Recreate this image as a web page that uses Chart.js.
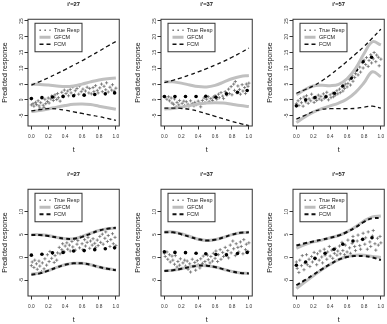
<!DOCTYPE html>
<html>
<head>
<meta charset="utf-8">
<script src="https://cdn.jsdelivr.net/npm/chart.js@4.4.0/dist/chart.umd.min.js"></script>
<style>
body { margin: 0; background: #fff; overflow: hidden; }
#wrap { position: relative; width: 387px; height: 324px; overflow: hidden; }
canvas { position: absolute; }
</style>
</head>
<body>
<div id="wrap"></div>
<script>
var tGrid = [0, 0.1, 0.2, 0.3, 0.4, 0.5, 0.6, 0.7, 0.8, 0.9, 1.0];
var legendLabels = ['True Resp', 'GFCM', 'FCM'];

// top row bands
var gfcmUpA27 = [4.9, 4.9, 4.7, 4.4, 4.2, 4.4, 5.0, 5.7, 6.3, 6.7, 6.9];
var gfcmLoA27 = [-3.7, -3.4, -2.9, -2.3, -1.8, -1.4, -1.3, -1.5, -2.0, -2.5, -3.0];
var fcmUpA27 = [4.7, 5.8, 7.0, 8.3, 9.6, 11.0, 12.4, 13.9, 15.4, 17.0, 18.5];
var fcmLoA27 = [-3.5, -3.1, -2.8, -2.9, -3.3, -3.8, -4.3, -4.8, -5.3, -5.9, -6.5];
var gfcmUpA37 = [5.8, 5.7, 5.3, 4.7, 4.2, 4.1, 4.6, 5.6, 6.7, 7.4, 7.7];
var gfcmLoA37 = [-2.9, -2.7, -2.3, -1.8, -1.3, -1.0, -0.9, -1.0, -1.4, -1.8, -2.1];
var fcmUpA37 = [5.5, 6.2, 7.0, 7.9, 8.9, 9.9, 11.0, 12.2, 13.5, 14.9, 16.4];
var fcmLoA37 = [-2.6, -2.6, -2.7, -3.0, -3.6, -4.4, -5.2, -6.0, -6.8, -7.5, -8.2];
var gfcmUpA57 = [1.6, 3.2, 4.4, 4.6, 4.5, 4.9, 6.7, 9.9, 14.6, 18.4, 17.4];
var gfcmLoA57 = [-7.2, -5.4, -3.9, -2.8, -1.9, -1.0, 0.3, 2.4, 5.4, 8.9, 7.3];
var fcmUpA57 = [2.1, 3.2, 4.4, 6.0, 7.9, 10.0, 12.2, 14.5, 16.9, 19.6, 22.4];
var fcmLoA57 = [-6.1, -4.9, -3.7, -3.0, -2.8, -2.8, -2.8, -2.7, -2.3, -2.0, -2.6];

// bottom row bands
var gfcmUpB27 = [5.0, 5.0, 4.8, 4.4, 4.1, 4.1, 4.6, 5.3, 5.9, 6.3, 6.4];
var gfcmLoB27 = [-3.7, -3.4, -2.9, -2.2, -1.6, -1.3, -1.3, -1.6, -2.1, -2.5, -2.7];
var fcmUpB27 = [4.9, 4.9, 4.7, 4.4, 4.1, 4.1, 4.5, 5.2, 5.9, 6.3, 6.5];
var fcmLoB27 = [-3.8, -3.5, -2.9, -2.2, -1.6, -1.3, -1.3, -1.6, -2.1, -2.5, -2.8];
var gfcmUpB37 = [5.6, 5.6, 5.2, 4.6, 4.0, 3.7, 3.9, 4.4, 5.0, 5.4, 5.5];
var gfcmLoB37 = [-2.9, -2.8, -2.5, -2.1, -1.8, -1.8, -2.1, -2.6, -3.1, -3.4, -3.5];
var fcmUpB37 = [5.5, 5.5, 5.1, 4.5, 4.0, 3.7, 3.9, 4.4, 5.0, 5.4, 5.5];
var fcmLoB37 = [-3.0, -2.8, -2.5, -2.1, -1.8, -1.8, -2.1, -2.6, -3.1, -3.4, -3.5];
var gfcmUpB57 = [2.0, 2.8, 3.4, 3.8, 4.3, 4.8, 5.6, 6.7, 8.0, 8.9, 9.1];
var gfcmLoB57 = [-6.8, -5.4, -4.0, -2.7, -1.5, -0.5, 0.2, 0.5, 0.5, 0.2, 0.0];
var fcmUpB57 = [2.6, 3.1, 3.5, 3.9, 4.3, 4.8, 5.6, 6.6, 7.8, 8.6, 8.6];
var fcmLoB57 = [-6.1, -5.0, -3.8, -2.6, -1.5, -0.5, 0.1, 0.3, 0.3, 0.0, -0.6];

// observed points (black dots)
var dotT27 = [0, 0.125, 0.25, 0.375, 0.5, 0.625, 0.75, 0.875, 0.985];
var dotA27 = [0.4, 0.7, 0.9, 1.1, 1.3, 1.5, 1.7, 1.9, 2.2];
var dotB27 = [0.5, 0.7, 1.0, 1.1, 1.4, 1.5, 1.7, 1.9, 2.1];
var dotT37 = [0, 0.125, 0.25, 0.375, 0.49, 0.61, 0.735, 0.865, 0.98];
var dotA37 = [1.05, 1.05, 1.05, 1.05, 1.15, 0.85, 1.9, 2.4, 2.95];
var dotB37 = [1.25, 1.1, 1.05, 0.9, 0.8, 0.65, 0.55, 0.85, 1.1];
var dotTA57 = [0, 0.11, 0.22, 0.35, 0.45, 0.55, 0.65, 0.71, 0.79, 0.89];
var dotA57 = [-1.9, 0.0, 0.7, 1.0, 2.1, 4.4, 6.9, 9.5, 12.1, 13.5];
var dotTB57 = [0, 0.11, 0.22, 0.34, 0.445, 0.55, 0.67, 0.785, 0.895];
var dotB57 = [-1.7, -1.0, -0.2, 0.9, 1.8, 2.9, 3.6, 4.0, 4.3];

// true response (+)
var plusA27 = [[0.00,-1.6],[0.02,-1.2],[0.03,-2.0],[0.05,-0.8],[0.06,-1.5],[0.08,-0.3],[0.09,-1.9],[0.10,-2.6],[0.11,-0.9],[0.13,-3.0],[0.14,-1.7],[0.15,-2.4],[0.16,0.2],[0.17,-1.2],[0.19,-0.5],[0.20,0.6],[0.21,-1.0],[0.23,0.3],[0.24,1.2],[0.26,-0.2],[0.27,0.8],[0.28,1.6],[0.30,0.1],[0.31,2.0],[0.32,0.7],[0.34,-0.4],[0.36,2.4],[0.38,1.0],[0.39,3.1],[0.41,2.0],[0.43,2.8],[0.44,1.3],[0.46,3.3],[0.47,2.2],[0.49,4.1],[0.51,1.6],[0.52,2.9],[0.54,3.6],[0.56,1.8],[0.57,4.4],[0.59,2.6],[0.61,3.4],[0.62,1.6],[0.64,2.8],[0.66,4.0],[0.68,2.2],[0.69,3.6],[0.71,1.9],[0.73,3.9],[0.74,2.6],[0.76,4.5],[0.78,3.0],[0.79,2.2],[0.81,3.8],[0.83,5.0],[0.84,2.6],[0.86,4.3],[0.88,3.2],[0.89,5.4],[0.91,2.5],[0.93,4.0],[0.95,3.1],[0.96,4.8],[0.98,2.8],[1.00,3.7]];
var plusB27 = [[0.00,-1.8],[0.01,-1.0],[0.03,-2.2],[0.04,-0.6],[0.06,-1.4],[0.07,-2.6],[0.09,-0.8],[0.10,-1.9],[0.12,-3.1],[0.13,-1.2],[0.15,-2.5],[0.16,-0.3],[0.18,-1.7],[0.19,0.6],[0.21,-0.9],[0.22,1.3],[0.24,-0.2],[0.25,0.9],[0.27,-1.1],[0.28,0.4],[0.30,-0.6],[0.31,1.0],[0.33,2.2],[0.34,0.8],[0.36,1.7],[0.37,3.0],[0.39,1.2],[0.40,2.5],[0.42,3.2],[0.43,1.8],[0.45,2.7],[0.46,1.4],[0.48,3.5],[0.49,2.3],[0.51,4.0],[0.52,1.6],[0.54,2.9],[0.55,3.7],[0.57,2.1],[0.58,4.5],[0.60,3.0],[0.61,1.7],[0.63,3.9],[0.64,2.5],[0.66,3.3],[0.67,4.4],[0.69,2.0],[0.70,3.6],[0.72,2.7],[0.73,4.1],[0.75,3.1],[0.76,2.2],[0.78,3.8],[0.79,2.6],[0.81,4.6],[0.82,3.3],[0.84,5.1],[0.85,2.9],[0.87,4.2],[0.88,5.6],[0.90,3.5],[0.91,4.8],[0.93,2.4],[0.94,3.9],[0.96,5.2],[0.97,3.0],[0.99,4.4],[1.00,2.6]];
var plusA37 = [[0.01,0.9],[0.03,0.2],[0.05,1.0],[0.06,-0.3],[0.08,0.6],[0.09,-1.0],[0.11,-1.4],[0.12,0.3],[0.14,-2.2],[0.15,-0.8],[0.17,-1.6],[0.18,-0.2],[0.20,-2.5],[0.21,-1.1],[0.23,-0.4],[0.24,-1.8],[0.26,-0.6],[0.28,-1.4],[0.29,-2.0],[0.31,-0.3],[0.33,-1.2],[0.35,-1.9],[0.36,-0.8],[0.38,-1.5],[0.40,-0.4],[0.42,-1.1],[0.43,-2.2],[0.45,-0.2],[0.47,0.6],[0.48,-0.9],[0.50,0.2],[0.52,1.0],[0.53,-0.5],[0.55,0.4],[0.57,-0.2],[0.58,0.9],[0.60,1.3],[0.62,0.2],[0.64,1.8],[0.65,0.7],[0.67,2.3],[0.69,1.2],[0.70,0.4],[0.72,2.6],[0.74,1.5],[0.76,3.4],[0.77,2.0],[0.79,4.2],[0.80,1.6],[0.82,5.0],[0.83,3.0],[0.84,5.8],[0.86,2.2],[0.87,4.4],[0.89,3.3],[0.90,1.8],[0.92,4.8],[0.93,2.8],[0.95,3.9],[0.96,2.0],[0.97,5.0],[0.99,4.3],[1.00,5.3]];
var plusB37 = [[0.00,0.9],[0.01,0.2],[0.03,1.2],[0.04,-0.4],[0.06,0.6],[0.07,-1.0],[0.09,0.3],[0.10,-0.6],[0.12,-1.5],[0.13,0.4],[0.15,-2.1],[0.16,-0.9],[0.18,-1.7],[0.19,-0.3],[0.21,-2.4],[0.22,-1.2],[0.24,-0.6],[0.25,-1.9],[0.27,-0.8],[0.28,-2.6],[0.30,-1.4],[0.31,-3.2],[0.33,-0.4],[0.34,-2.0],[0.36,-1.1],[0.37,-2.8],[0.39,-0.7],[0.40,-1.6],[0.42,-2.3],[0.43,-0.3],[0.45,-1.3],[0.46,0.3],[0.48,-0.9],[0.49,-1.7],[0.51,0.5],[0.52,-0.5],[0.54,-1.2],[0.55,0.2],[0.57,-0.8],[0.58,0.9],[0.60,-0.2],[0.61,1.4],[0.63,-0.9],[0.64,0.6],[0.66,1.7],[0.67,-0.4],[0.69,1.1],[0.70,0.2],[0.72,2.2],[0.73,0.7],[0.75,1.5],[0.76,-0.1],[0.78,2.7],[0.79,1.0],[0.81,3.6],[0.82,1.9],[0.84,0.4],[0.85,3.0],[0.87,2.2],[0.88,1.2],[0.90,3.4],[0.91,2.4],[0.93,0.8],[0.94,3.9],[0.96,1.7],[0.97,2.9],[0.99,1.3],[1.00,3.2]];
var plusA57 = [[0.00,-1.2],[0.02,-0.3],[0.03,-1.8],[0.05,0.4],[0.06,-0.9],[0.08,-2.0],[0.09,0.9],[0.11,-0.6],[0.12,1.3],[0.14,-1.1],[0.15,0.3],[0.17,-0.3],[0.18,1.8],[0.20,0.6],[0.21,-0.8],[0.23,0.9],[0.24,-0.2],[0.26,1.5],[0.27,0.3],[0.29,1.1],[0.30,-0.1],[0.32,1.9],[0.33,0.5],[0.35,1.2],[0.36,2.4],[0.38,0.0],[0.40,1.6],[0.41,0.7],[0.43,2.1],[0.44,1.0],[0.46,1.5],[0.48,2.9],[0.49,1.9],[0.51,3.4],[0.52,2.3],[0.54,4.2],[0.55,2.8],[0.57,3.6],[0.58,5.0],[0.60,4.1],[0.61,5.2],[0.63,6.4],[0.64,4.7],[0.66,7.6],[0.67,5.9],[0.69,7.1],[0.70,8.3],[0.72,9.6],[0.73,7.9],[0.75,10.4],[0.76,8.8],[0.78,11.8],[0.79,10.1],[0.80,12.6],[0.82,11.2],[0.83,13.4],[0.85,10.6],[0.86,12.5],[0.88,14.3],[0.89,11.7],[0.91,13.0],[0.92,15.0],[0.94,12.1],[0.95,14.2],[0.97,13.5],[0.98,10.8],[1.00,12.9]];
var plusB57 = [[0.00,-1.0],[0.01,-2.4],[0.03,-3.3],[0.04,-0.6],[0.06,-1.8],[0.07,0.4],[0.09,-2.7],[0.10,-1.2],[0.12,0.6],[0.13,-1.6],[0.15,-0.4],[0.16,-2.0],[0.18,0.2],[0.19,-1.0],[0.21,1.1],[0.22,-0.3],[0.24,-1.6],[0.25,0.8],[0.27,-0.6],[0.28,1.4],[0.30,0.1],[0.31,-1.2],[0.33,1.8],[0.34,0.5],[0.36,-0.4],[0.37,1.2],[0.39,2.4],[0.40,0.3],[0.42,1.6],[0.43,-0.2],[0.45,0.9],[0.46,2.0],[0.48,0.5],[0.49,1.4],[0.51,2.5],[0.52,0.8],[0.54,3.3],[0.55,1.5],[0.57,0.6],[0.58,2.7],[0.60,1.2],[0.61,3.8],[0.63,2.1],[0.64,0.9],[0.66,3.1],[0.67,4.6],[0.69,2.4],[0.70,1.5],[0.72,3.6],[0.73,4.9],[0.75,2.6],[0.76,1.8],[0.78,3.9],[0.79,5.3],[0.81,2.9],[0.82,4.3],[0.84,1.8],[0.85,5.6],[0.87,3.4],[0.88,2.4],[0.90,4.7],[0.91,5.9],[0.93,3.0],[0.94,1.6],[0.96,4.2],[0.97,2.7],[0.99,4.6],[1.00,3.2]];

var panels = [
  { title: "i'=27", row: 0, col: 0, gUp: gfcmUpA27, gLo: gfcmLoA27, fUp: fcmUpA27, fLo: fcmLoA27, dt: dotT27, dv: dotA27, plus: plusA27 },
  { title: "i'=37", row: 0, col: 1, gUp: gfcmUpA37, gLo: gfcmLoA37, fUp: fcmUpA37, fLo: fcmLoA37, dt: dotT37, dv: dotA37, plus: plusA37 },
  { title: "i'=57", row: 0, col: 2, gUp: gfcmUpA57, gLo: gfcmLoA57, fUp: fcmUpA57, fLo: fcmLoA57, dt: dotTA57, dv: dotA57, plus: plusA57 },
  { title: "i'=27", row: 1, col: 0, gUp: gfcmUpB27, gLo: gfcmLoB27, fUp: fcmUpB27, fLo: fcmLoB27, dt: dotT27, dv: dotB27, plus: plusB27 },
  { title: "i'=37", row: 1, col: 1, gUp: gfcmUpB37, gLo: gfcmLoB37, fUp: fcmUpB37, fLo: fcmLoB37, dt: dotT37, dv: dotB37, plus: plusB37 },
  { title: "i'=57", row: 1, col: 2, gUp: gfcmUpB57, gLo: gfcmLoB57, fUp: fcmUpB57, fLo: fcmLoB57, dt: dotTB57, dv: dotB57, plus: plusB57 }
];

var boxLeft = [28, 161, 293];
var rowTop = [0, 170];
var yMin = [-8.28, -8.46];
var yMax = [25.54, 14.95];
var fcmWidth = [1.3, 2];
var FONT = 'Liberation Sans, Arial, sans-serif';

function curve(vals) {
  return vals.map(function (v, i) { return { x: tGrid[i], y: v }; });
}

// plot box + inset legend, R style
var boxLegend = {
  id: 'boxLegend',
  afterDatasetsDraw: function (chart, args, opts) {
    var ctx = chart.ctx, a = chart.chartArea;
    ctx.save();
    ctx.strokeStyle = '#333';
    ctx.lineWidth = 1;
    ctx.strokeRect(a.left, a.top, a.right - a.left, a.bottom - a.top);

    var x0 = a.left + 7, y0 = a.top + 4, w = 47, h = 28.5;
    ctx.fillStyle = '#fff';
    ctx.fillRect(x0, y0, w, h);
    ctx.strokeRect(x0, y0, w, h);

    for (var i = 0; i < legendLabels.length; i++) {
      var y = y0 + 7 + i * 7;
      ctx.beginPath();
      if (i === 0) {
        ctx.strokeStyle = '#555'; ctx.lineWidth = 1.3; ctx.setLineDash([1.3, 3.7]);
      } else if (i === 1) {
        ctx.strokeStyle = '#bdbdbd'; ctx.lineWidth = 3; ctx.setLineDash([]);
      } else {
        ctx.strokeStyle = '#111'; ctx.lineWidth = opts.fcmWidth; ctx.setLineDash([4, 3]);
      }
      ctx.moveTo(x0 + 4.5, y);
      ctx.lineTo(x0 + 15.5, y);
      ctx.stroke();
      ctx.setLineDash([]);
      ctx.fillStyle = '#222';
      ctx.font = '5.5px ' + FONT;
      ctx.textBaseline = 'middle';
      ctx.fillText(legendLabels[i], x0 + 19, y);
    }
    ctx.restore();
  }
};

var wrap = document.getElementById('wrap');

panels.forEach(function (p) {
  var cv = document.createElement('canvas');
  cv.width = 124;
  cv.height = 162;
  cv.style.left = (boxLeft[p.col] - 28) + 'px';
  cv.style.top = rowTop[p.row] + 'px';
  wrap.appendChild(cv);

  var fw = fcmWidth[p.row];
  new Chart(cv.getContext('2d'), {
    type: 'scatter',
    data: {
      datasets: [
        { label: 'FCM', data: curve(p.fUp), showLine: true, pointRadius: 0, borderColor: '#111', borderWidth: fw, borderDash: [4, 3], tension: 0.4 },
        { label: 'FCM', data: curve(p.fLo), showLine: true, pointRadius: 0, borderColor: '#111', borderWidth: fw, borderDash: [4, 3], tension: 0.4 },
        { label: 'GFCM', data: curve(p.gUp), showLine: true, pointRadius: 0, borderColor: '#c0c0c0', borderWidth: 3, tension: 0.4 },
        { label: 'GFCM', data: curve(p.gLo), showLine: true, pointRadius: 0, borderColor: '#c0c0c0', borderWidth: 3, tension: 0.4 },
        { label: 'obs', data: p.dt.map(function (t, i) { return { x: t, y: p.dv[i] }; }), pointRadius: 1.8, pointBackgroundColor: '#000', pointBorderColor: '#000', pointBorderWidth: 0 },
        { label: 'True Resp', data: p.plus.map(function (d) { return { x: d[0], y: d[1] }; }), pointStyle: 'cross', pointRadius: 1.6, pointBorderColor: '#666', pointBorderWidth: 0.75 }
      ]
    },
    options: {
      responsive: false,
      animation: false,
      devicePixelRatio: 1,
      layout: { padding: { left: 0, right: 4, top: 0, bottom: 0 } },
      plugins: {
        legend: { display: false },
        tooltip: { enabled: false },
        title: {
          display: true, text: p.title, fullSize: false, color: '#111',
          font: { family: FONT, size: 5.8, weight: 'bold' },
          padding: { top: 1.2, bottom: 11.1 }
        },
        boxLegend: { fcmWidth: fw }
      },
      scales: {
        x: {
          type: 'linear', min: -0.04, max: 1.04,
          afterFit: function (s) { s.height = 36; s.paddingLeft = 0; s.paddingRight = 0; },
          border: { display: false },
          grid: { drawOnChartArea: false, drawTicks: true, tickLength: 3.5, tickColor: '#333' },
          ticks: {
            stepSize: 0.2, includeBounds: false, autoSkip: false, maxRotation: 0, padding: 4.6,
            color: '#333', font: { family: FONT, size: 4.8 },
            callback: function (v) { return v.toFixed(1); }
          },
          title: { display: true, text: 't', color: '#111', font: { family: FONT, size: 7 }, padding: { top: 0, bottom: 7.5 } }
        },
        y: {
          type: 'linear', min: yMin[p.row], max: yMax[p.row],
          afterFit: function (s) { s.width = 28; s.paddingTop = 0; s.paddingBottom = 0; },
          border: { display: false },
          grid: { drawOnChartArea: false, drawTicks: true, tickLength: 3.5, tickColor: '#333' },
          ticks: {
            stepSize: 5, includeBounds: false, autoSkip: false, minRotation: 90, maxRotation: 90,
            crossAlign: 'center', padding: 0,
            color: '#333', font: { family: FONT, size: 4.8 },
            callback: function (v) { return String(v); }
          },
          title: { display: true, text: 'Predicted response', color: '#111', font: { family: FONT, size: 7 }, padding: { top: 0.8, bottom: 0 } }
        }
      }
    },
    plugins: [boxLegend]
  });
});
</script>
</body>
</html>
